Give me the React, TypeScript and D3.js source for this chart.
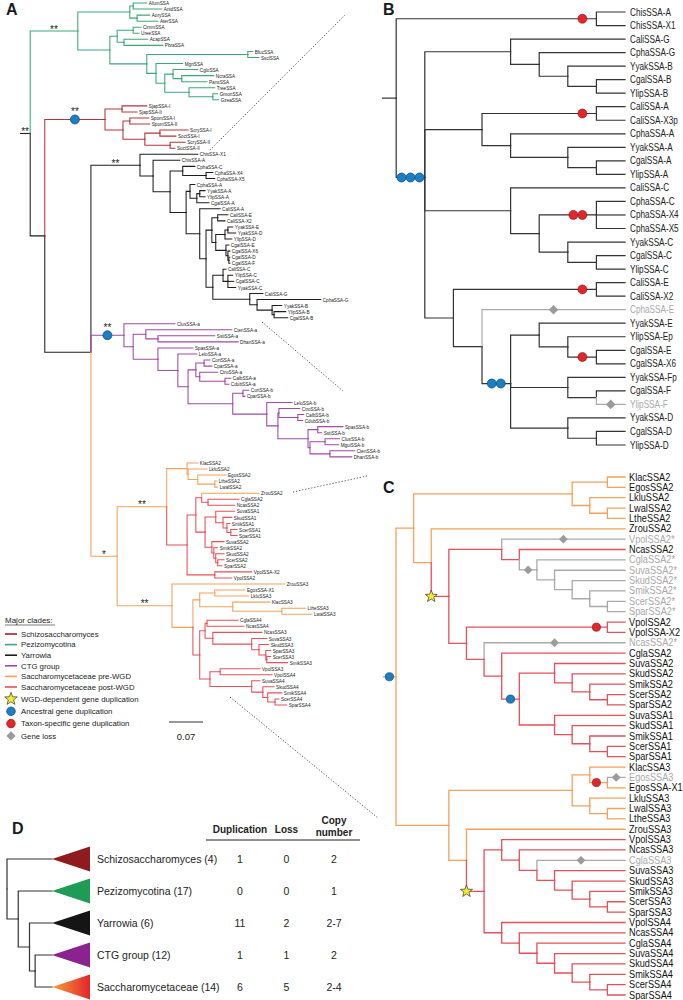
import React from 'react';
import * as d3 from 'd3';

// ================= DATA =================
// Panel A (phylogram). Number after ':' = distance of the node from the root (substitutions/site)
const pezizomycotinaA =
  "(((AfumSSA:.261,AnidSSA:.292)AA1:.233,(AorySSA:.267,AterSSA:.284)AA2:.241)Asp:.226,(((CimmSSA:.249,UreeSSA:.245)CU:.233,(AcapSSA:.263,PbraSSA:.294)AP:.214)OA:.200,((BfucSSA:.479,SsclSSA:.492)BS:.469,(MgriSSA:.335,((CgloSSA:.366,(NcraSSA:.399,PansSSA:.385)NP:.333)CNP:.315,(TreeSSA:.401,(GmonSSA:.407,GzeaSSA:.409)GG:.397)TGG:.348)G4:.298)G3:.280)G2:.261)G1:.185)G0:.119";
const schizoA =
  "((SjapSSA-I:.261,SjapSSA-II:.241)RJ:.210,((SpomSSA-I:.265,SpomSSA-II:.267)RP:.226,((ScrySSA-I:.346,SoctSSA-I:.321)RC1:.288,(ScrySSA-II:.340,SoctSSA-II:.319)RC2:.309)RC:.257)RX:.212)R0:.175";
const yarCC = "(CphaSSA-C:.360,(CphaSSA-X4:.397,CphaSSA-X5:.401)CX:.383)CC:.335";
const yarCA = "(CphaSSA-A:.360,((YyakSSA-A:.381,YlipSSA-A:.381)CA3:.370,CgalSSA-A:.389)CA2:.364)CA:.350";
const yarY6 =
  "((CaliSSA-E:.428,CaliSSA-X2:.422)CE:.407,(((YyakSSA-E:.438,YyakSSA-D:.444)YEd:.428,YlipSSA-D:.436)YY:.422,(CgalSSA-E:.430,(CgalSSA-X6:.432,(CgalSSA-D:.432,CgalSSA-F:.432)CG3:.430)CG2:.428)CG:.424)Y6b:.403)Y6:.395";
const yarY7 =
  "((CaliSSA-C:.424,(YlipSSA-C:.438,CgalSSA-C:.440,YyakSSA-C:.444)CC3:.428)CC2:.418,(CaliSSA-G:.500,(CphaSSA-G:.619,(YyakSSA-B:.539,(YlipSSA-B:.547,CgalSSA-B:.551)YB:.523)G3y:.519)G2y:.488)Gy:.473)Y7:.397";
const yarrowiaA = `(ChisSSA-X1:.366,(ChisSSA-A:.329,(${yarCC},(${yarCA},(CaliSSA-A:.412,(${yarY6},${yarY7})Y5:.383)Y4:.370)Y3:.342)Y2:.309)Y1:.274)Y0:.247`;
const ctgP6 = "((CortSSA-a:.391,CparSSA-a:.395)CCpA:.379,(CtroSSA-a:.407,(CalbSSA-a:.434,CdubSSA-a:.430)CC2A:.422)CCtA:.370)P6:.362";
const ctgP10 = "((SpasSSA-b:.665,SstiSSA-b:.621)SSb:.613,((ClusSSA-b:.658,MguiSSA-b:.656)CM:.628,(CtenSSA-b:.689,DhanSSA-b:.683)CD:.638)P11:.597)P10:.593";
const ctgP7 = `((CortSSA-b:.471,CparSSA-b:.463)CCpB:.459,(LeloSSA-b:.560,((CtroSSA-b:.576,(CalbSSA-b:.584,CdubSSA-b:.582)CCB:.572)P9a:.533,${ctgP10})P9:.531)P8:.508)P7:.438`;
const ctgA = `(ClusSSA-a:.319,((CtenSSA-a:.436,(SstiSSA-a:.401,DhanSSA-a:.449)P2b:.284)P2:.259,(SpasSSA-a:.356,(LeloSSA-a:.364,(${ctgP6},${ctgP7})P5:.346)P4:.325)P3:.284)P1:.233)P0:.214`;
const sacPA = "(KlacSSA2:.366,(LkluSSA2:.385,(EgosSSA2:.424,(LtheSSA2:.405,LwalSSA2:.407)LL:.401)PA3:.366)PA2:.346)PA:.344";
const sacPE =
  "((SuvaSSA1:.442,(SkudSSA1:.436,(SmikSSA1:.432,(ScerSSA1:.447,SparSSA1:.447)S1c:.434)S1b:.426)S1a:.418)S1:.403,(SuvaSSA2:.420,(SmikSSA2:.407,(SkudSSA2:.420,(ScerSSA2:.420,SparSSA2:.416)S2c:.407)S2b:.403)S2a:.399)S2:.395)PE:.381";
const sacPB = `(((ZrouSSA2:.492,(CglaSSA2:.451,NcasSSA2:.442)CN:.387)PD:.374,${sacPE})PC:.362,(VpolSSA-X2:.477,VpolSSA2:.436)PV:.401)PB:.344`;
const sacPF = "((EgosSSA-X1:.463,LkluSSA3:.471)PF1:.401,(KlacSSA3:.514,(LtheSSA3:.588,LwalSSA3:.601)LL3:.539)PF2:.438)PF:.370";
const sacPG1 =
  "((CglaSSA4:.449,NcasSSA4:.461)PCN:.385,(NcasSSA3:.498,(SuvaSSA3:.508,(SkudSSA3:.512,(SparSSA3:.516,(ScerSSA3:.516,SmikSSA3:.551)SM:.508)PK:.506)PJ:.492)PI:.477)PH:.397)PG1:.381";
const sacPL =
  "((VpolSSA3:.494,VpolSSA4:.519)PVV:.412,(SuvaSSA4:.494,(SkudSSA4:.523,(SmikSSA4:.539,(ScerSSA4:.533,SparSSA4:.549)SS4:.525)PO:.510)PN:.500)PM:.477)PL:.391";
const saccharomycetaceaeA = `((${sacPA},${sacPB})SA:.302,(ZrouSSA3:.545,(${sacPF},(${sacPG1},${sacPL})PG:.370)SC:.356)SB:.313)S0:.200`;
const treeA = `(${pezizomycotinaA},(${schizoA},(${yarrowiaA},${ctgA},${saccharomycetaceaeA})N3:.146)N2:.051)N1:.021`;

const cladeColorsA: Record<string, string> = { G0: 'pezizomycotina', R0: 'schizo', P0: 'ctg', S0: 'pre', PB: 'post', ZrouSSA2: 'pre', PG: 'post' };
const supportsA = [
  { node: 'N1', label: '**' }, { node: 'G0', label: '**' }, { node: 'R0', label: '**' }, { node: 'Y0', label: '**' },
  { node: 'P0', label: '**' }, { node: 'S0', label: '*' }, { node: 'SA', label: '**' }, { node: 'SB', label: '**' },
];
const eventsA = [{ node: 'R0', kind: 'anc', n: 1 }, { node: 'P0', kind: 'anc', n: 1 }];

// Panel B (Yarrowia clade, cladogram). Number after ':' = node rank from tips
const treeB =
  "((ChisSSA-A,ChisSSA-X1)Chis:1,((CaliSSA-G,(CphaSSA-G,(YyakSSA-B,(CgalSSA-B,YlipSSA-B):1):2):3)Gb:4," +
  "((CaliSSA-A,CaliSSA-X3p)AAb:1,(CphaSSA-A,(YyakSSA-A,(CgalSSA-A,YlipSSA-A):1):2)A2b:4)Ab:5," +
  "(CaliSSA-C,((CphaSSA-C,CphaSSA-X4,CphaSSA-X5)C3b:1,(YyakSSA-C,(CgalSSA-C,YlipSSA-C):1):2):3)Cb:4," +
  "((CaliSSA-E,CaliSSA-X2)E1b:1,(CphaSSA-E,((YyakSSA-E,(YlipSSA-Ep,(CgalSSA-E,CgalSSA-X6)CgEb:1):2):3,(YyakSSA-Fp,(CgalSSA-F,YlipSSA-F):1):2,(YyakSSA-D,(CgalSSA-D,YlipSSA-D):1):2)E3b:4)E2b:5)Eb:6)B1:7)Rb:8";
const lostB = ['CphaSSA-E', 'YlipSSA-F'];
const eventsB = [
  { node: 'Chis', kind: 'tax', n: 1 }, { node: 'B1', kind: 'anc', n: 3 }, { node: 'AAb', kind: 'tax', n: 1 },
  { node: 'C3b', kind: 'tax', n: 2 }, { node: 'E1b', kind: 'tax', n: 1 }, { node: 'CphaSSA-E', kind: 'loss', n: 1 },
  { node: 'E3b', kind: 'anc', n: 2 }, { node: 'CgEb', kind: 'tax', n: 1 }, { node: 'YlipSSA-F', kind: 'loss', n: 1 },
];

// Panel C (Saccharomycetaceae clade, cladogram)
const preWGD2 = "((KlacSSA2,EgosSSA2):1,(LkluSSA2,(LwalSSA2,LtheSSA2):1):2)Pre2:3";
const postW2a = "(VpolSSA2*,(NcasSSA2,(CglaSSA2*,(SuvaSSA2*,(SkudSSA2*,(SmikSSA2*,(ScerSSA2*,SparSSA2*):1):2):3):4)W2c:5)W2b:6)W2a:7";
const postW2g =
  "((VpolSSA2,VpolSSA-X2)VP2:1,(NcasSSA2*,(CglaSSA2,((SuvaSSA2,(SkudSSA2,(SmikSSA2,(ScerSSA2,SparSSA2):1):2):3):4,(SuvaSSA1,(SkudSSA1,(SmikSSA1,(ScerSSA1,SparSSA1):1):2):3):4)W2j:6)W2i:7)W2h:8)W2g:9";
const preWGD3 = "((KlacSSA3,(EgosSSA3,EgosSSA-X1)EE:1):2,(LkluSSA3,(LwalSSA3,LtheSSA3):1):2)Pre3:3";
const postW3a = "(VpolSSA3,(NcasSSA3,(CglaSSA3,(SuvaSSA3,(SkudSSA3,(SmikSSA3,(ScerSSA3,SparSSA3):1):2):3):4)W3a3:5):6)W3a:7";
const postW3b = "(VpolSSA4,(NcasSSA4,(CglaSSA4,(SuvaSSA4,(SkudSSA4,(SmikSSA4,(ScerSSA4,SparSSA4):1):2):3):4):5):6)W3b:7";
const treeC = `((${preWGD2},(ZrouSSA2,(${postW2a},${postW2g})W2:10)Z2:11)S2:12,(${preWGD3},(ZrouSSA3,(${postW3a},${postW3b})W3:8)Z3:9)S3:10)Rc:13`;
const cladeColorsC: Record<string, string> = { W2: 'post', W3: 'post' };
const lostC = ['VpolSSA2*', 'W2c', 'NcasSSA2*', 'EgosSSA3', 'CglaSSA3'];
const eventsC = [
  { node: 'Rc', kind: 'anc', n: 1 }, { node: 'W2', kind: 'wgd', n: 1 }, { node: 'W3', kind: 'wgd', n: 1 },
  { node: 'VP2', kind: 'tax', n: 1 }, { node: 'VpolSSA2*', kind: 'loss', n: 1 }, { node: 'W2c', kind: 'loss', n: 1 },
  { node: 'NcasSSA2*', kind: 'loss', n: 1 }, { node: 'W2j', kind: 'anc', n: 1 }, { node: 'EE', kind: 'tax', n: 1 },
  { node: 'EgosSSA3', kind: 'loss', n: 1 }, { node: 'CglaSSA3', kind: 'loss', n: 1 },
];

// Panel D
const treeD = "(Schizo:4,(Pezizo:4,(Yarrowia:4,(CTG:4,Sacch:4)D3:2.5)D2:2)D1:1)D0:0";
const dNames = ['Schizosaccharomyces (4)', 'Pezizomycotina (17)', 'Yarrowia (6)', 'CTG group (12)', 'Saccharomycetaceae (14)'];
const dDuplication = ['1', '0', '11', '1', '6'];
const dLoss = ['0', '0', '2', '1', '5'];
const dCopy = ['2', '1', '2-7', '2', '2-4'];
const dColorKeys = ['schizoD', 'peziD', 'yarD', 'ctgD', 'sacchD'];

// Legend
const legendClades = [
  { label: 'Schizosaccharomyces', key: 'schizoL' }, { label: 'Pezizomycotina', key: 'pezizomycotina' },
  { label: 'Yarrowia', key: 'yarrowia' }, { label: 'CTG group', key: 'ctg' },
  { label: 'Saccharomycetaceae pre-WGD', key: 'pre' }, { label: 'Saccharomycetaceae post-WGD', key: 'post' },
];
const legendEvents = [
  { label: 'WGD-dependent gene duplication', kind: 'wgd' }, { label: 'Ancestral gene duplication', kind: 'anc' },
  { label: 'Taxon-specific gene duplication', kind: 'tax' }, { label: 'Gene loss', kind: 'loss' },
];
const scaleBarValue = 0.07;

// ================= STYLE =================
const FONT = "'Liberation Sans', Arial, Helvetica, sans-serif";
const PAL: Record<string, string> = {
  pezizomycotina: '#3aa977', schizo: '#b3343d', schizoL: '#a3202a', yarrowia: '#1e1e1e', ctg: '#9f4aa6',
  pre: '#f4a259', post: '#e5505b', lost: '#a9a9a9', plain: '#333333',
  schizoD: '#8e1b1e', peziD: '#1e9c56', yarD: '#151515', ctgD: '#8a2290',
};

// ================= HELPERS =================
type TNode = { name: string; v: number; children: TNode[] };
function parseNewick(src: string): TNode {
  const s = src.replace(/\s+/g, '');
  let i = 0;
  const read = (): TNode => {
    const node: TNode = { name: '', v: 0, children: [] };
    if (s[i] === '(') {
      i++;
      node.children.push(read());
      while (s[i] === ',') { i++; node.children.push(read()); }
      i++;
    }
    let name = '';
    while (i < s.length && !',():;'.includes(s[i])) name += s[i++];
    node.name = name;
    if (s[i] === ':') {
      i++;
      let num = '';
      while (i < s.length && !',();'.includes(s[i])) num += s[i++];
      node.v = parseFloat(num);
    }
    return node;
  };
  return read();
}

function buildTree(src: string, xScale: any, yRange: [number, number], base: string, overrides: Record<string, string>, lost: string[]) {
  const root: any = d3.hierarchy(parseNewick(src), (d: TNode) => (d.children.length ? d.children : null));
  const leaves: any[] = root.leaves();
  const yS = d3.scalePoint<number>().domain(d3.range(leaves.length)).range(yRange);
  leaves.forEach((l, i) => { l.py = yS(i); });
  root.eachAfter((n: any) => {
    if (n.children) n.py = d3.mean(n.children, (c: any) => c.py);
    n.px = xScale(n.data.v);
  });
  const lostSet = new Set(lost);
  root.eachBefore((n: any) => {
    n.col = overrides[n.data.name] ?? (n.parent ? n.parent.col : base);
    n.lost = lostSet.has(n.data.name) || (n.parent ? n.parent.lost : false);
  });
  const byName = new Map<string, any>();
  root.each((n: any) => { if (n.data.name) byName.set(n.data.name, n); });
  return { root, leaves, byName };
}

function starPath(cx: number, cy: number, R: number, r: number) {
  const pts = d3.range(10).map((i) => {
    const a = (-90 + i * 36) * Math.PI / 180;
    const rad = i % 2 ? r : R;
    return [cx + rad * Math.cos(a), cy + rad * Math.sin(a)];
  });
  return 'M' + pts.map((p) => p.join(',')).join('L') + 'Z';
}

function symbol(kind: string, x: number, y: number, r: number, key: string) {
  if (kind === 'anc') return <circle key={key} cx={x} cy={y} r={r} fill="#1b7fc3" stroke="#0b4c7a" strokeWidth={0.7} />;
  if (kind === 'tax') return <circle key={key} cx={x} cy={y} r={r} fill="#e3262c" stroke="#7a1416" strokeWidth={0.6} />;
  if (kind === 'loss') {
    const h = r + 0.3;
    return <path key={key} d={`M${x},${y - h}L${x + h},${y}L${x},${y + h}L${x - h},${y}Z`} fill="#9b9b9b" />;
  }
  return <path key={key} d={starPath(x, y, r * 1.55, r * 0.65)} fill="#f2ea2c" stroke="#333" strokeWidth={0.7} />;
}

function drawEdges(t: any, stemX: number, width: number, colorOf: (n: any) => string, prefix: string) {
  const out: any[] = [];
  out.push(<path key={prefix + 'stem'} d={`M${stemX},${t.root.py}H${t.root.px}`} stroke={colorOf(t.root)} strokeWidth={width} fill="none" />);
  t.root.descendants().forEach((n: any, i: number) => {
    if (!n.parent) return;
    out.push(
      <path key={prefix + i} d={`M${n.parent.px},${n.parent.py}V${n.py}H${n.px}`} stroke={colorOf(n)}
        strokeWidth={width} fill="none" strokeLinecap="square" />
    );
  });
  return out;
}

function drawEvents(t: any, stemX: number, list: any[], r: number, taxOff: number, prefix: string) {
  const out: any[] = [];
  list.forEach((m, mi) => {
    const n = t.byName.get(m.node);
    if (!n) return;
    const x0 = n.parent ? n.parent.px : stemX;
    const x1 = n.px;
    const pos: number[] = [];
    if (m.kind === 'wgd') pos.push(x0);
    else if (m.kind === 'tax') for (let i = 0; i < m.n; i++) pos.push(x1 - taxOff - (m.n - 1 - i) * 2 * r);
    else { const c = (x0 + x1) / 2; for (let i = 0; i < m.n; i++) pos.push(c + (i - (m.n - 1) / 2) * 2 * r); }
    pos.forEach((x, k) => out.push(symbol(m.kind, x, n.py, r, `${prefix}${mi}-${k}`)));
  });
  return out;
}

// ================= COMPONENT =================
export default function App() {
  const W = 683, H = 1000;

  const xA = d3.scaleLinear().domain([0, scaleBarValue]).range([20, 54]);
  const tA = buildTree(treeA, xA, [3, 705], 'yarrowia', cladeColorsA, []);
  const xB = d3.scaleLinear().domain([0, 8]).range([625, 396.2]);
  const tB = buildTree(treeB, xB, [12, 445], 'plain', {}, lostB);
  const xC = d3.scaleLinear().domain([0, 13]).range([625, 396]);
  const tC = buildTree(treeC, xC, [477, 995], 'pre', cladeColorsC, lostC);
  const xD = d3.scaleLinear().domain([0, 4]).range([7, 52]);
  const tD = buildTree(treeD, xD, [859, 987], 'plain', {}, []);

  const markedA = new Set(eventsA.map((e) => e.node));
  const legendRowsY = d3.range(legendClades.length).map((i) => 634 + i * 10.6);
  const legendEvY = d3.range(legendEvents.length).map((i) => 699 + i * 12.3);
  const colD = { dup: 240, loss: 286.5, copy: 334 };

  return (
    <svg width={W} height={H} style={{ position: 'absolute', left: 0, top: 0, background: '#fff' }} fontFamily={FONT}>
      <defs>
        <linearGradient id="sacchGrad" x1="0" x2="1" y1="0" y2="0">
          <stop offset="0%" stopColor="#f7a13a" />
          <stop offset="100%" stopColor="#e2262b" />
        </linearGradient>
      </defs>
      <rect width={W} height={H} fill="#fff" />

      {/* ---------- Panel A ---------- */}
      <g>
        {drawEdges(tA, xA(0), 1.05, (n) => PAL[n.col], 'a')}
        {drawEvents(tA, xA(0), eventsA, 4.5, 0, 'ae')}
        {supportsA.map((s, i) => {
          const n = tA.byName.get(s.node);
          const x0 = n.parent ? n.parent.px : xA(0);
          const yy = markedA.has(s.node) ? n.py - 4.5 : n.py + 1.5;
          return <text key={'sup' + i} x={(x0 + n.px) / 2} y={yy} fontSize={10} textAnchor="middle" fill="#222">{s.label}</text>;
        })}
        {tA.leaves.map((l: any, i: number) => (
          <text key={'la' + i} transform={`translate(${l.px + 2},${l.py}) scale(0.78,1)`} fontSize={6} dy="0.35em" fill="#1a1a1a">
            {l.data.name}
          </text>
        ))}
        <line x1={169} x2={169 + xA(scaleBarValue) - xA(0)} y1={722} y2={722} stroke="#333" strokeWidth={1.2} />
        <text x={169 + (xA(scaleBarValue) - xA(0)) / 2} y={740} fontSize={9.5} textAnchor="middle" fill="#222">{scaleBarValue}</text>

        <text x={5} y={623} fontSize={8} fill="#222">Major clades:</text>
        <line x1={5} x2={55} y1={625} y2={625} stroke="#222" strokeWidth={0.6} />
        {legendClades.map((c, i) => (
          <g key={'lc' + i}>
            <line x1={5} x2={17} y1={legendRowsY[i]} y2={legendRowsY[i]} stroke={PAL[c.key]} strokeWidth={1.6} />
            <text x={21} y={legendRowsY[i]} dy="0.35em" fontSize={7.8} fill="#222">{c.label}</text>
          </g>
        ))}
        {legendEvents.map((e, i) => (
          <g key={'le' + i}>
            {symbol(e.kind, 11, legendEvY[i], 4.3, 'les' + i)}
            <text x={21} y={legendEvY[i]} dy="0.35em" fontSize={7.8} fill="#222">{e.label}</text>
          </g>
        ))}
      </g>

      {/* dotted connectors */}
      <g stroke="#333" strokeWidth={0.8} strokeDasharray="1.3 1.8" fill="none">
        <line x1={210} y1={150} x2={345} y2={15} />
        <line x1={262} y1={322} x2={343} y2={391} />
        <line x1={293} y1={492} x2={367} y2={476} />
        <line x1={230} y1={697} x2={378} y2={818} />
      </g>

      {/* ---------- Panel B ---------- */}
      <g>
        {drawEdges(tB, xB(8.5), 1.2, (n) => (n.lost ? PAL.lost : PAL.plain), 'b')}
        {drawEvents(tB, xB(8.5), eventsB, 4.5, 14, 'be')}
        {tB.leaves.map((l: any, i: number) => (
          <text key={'lb' + i} transform={`translate(${l.px + 5},${l.py}) scale(0.82,1)`} fontSize={10} dy="0.35em"
            fill={l.lost ? '#a8a8a8' : '#222'}>
            {l.data.name}
          </text>
        ))}
      </g>

      {/* ---------- Panel C ---------- */}
      <g>
        {drawEdges(tC, xC(13.75), 1.3, (n) => (n.lost ? PAL.lost : PAL[n.col]), 'c')}
        {drawEvents(tC, xC(13.75), eventsC, 4.1, 11, 'ce')}
        {tC.leaves.map((l: any, i: number) => (
          <text key={'lc' + i} transform={`translate(${l.px + 4},${l.py}) scale(0.92,1)`} fontSize={10} dy="0.35em"
            fill={l.lost ? '#a8a8a8' : '#111'}>
            {l.data.name}
          </text>
        ))}
      </g>

      {/* ---------- Panel D ---------- */}
      <g>
        {drawEdges(tD, xD(0), 1.2, () => '#333', 'd').slice(1)}
        {tD.leaves.map((l: any, i: number) => (
          <g key={'ld' + i}>
            <path d={`M${l.px},${l.py}L${l.px + 38},${l.py - 12.5}L${l.px + 38},${l.py + 12.5}Z`}
              fill={dColorKeys[i] === 'sacchD' ? 'url(#sacchGrad)' : PAL[dColorKeys[i]]} />
            <text x={97} y={l.py} dy="0.35em" fontSize={10.5} fill="#222">{dNames[i]}</text>
            <text x={colD.dup} y={l.py} dy="0.35em" fontSize={10.5} fill="#222" textAnchor="middle">{dDuplication[i]}</text>
            <text x={colD.loss} y={l.py} dy="0.35em" fontSize={10.5} fill="#222" textAnchor="middle">{dLoss[i]}</text>
            <text x={colD.copy} y={l.py} dy="0.35em" fontSize={10.5} fill="#222" textAnchor="middle">{dCopy[i]}</text>
          </g>
        ))}
        <text x={colD.dup} y={833} fontSize={10} fontWeight="bold" textAnchor="middle" fill="#222">Duplication</text>
        <text x={colD.loss} y={833} fontSize={10} fontWeight="bold" textAnchor="middle" fill="#222">Loss</text>
        <text x={colD.copy} y={824} fontSize={10} fontWeight="bold" textAnchor="middle" fill="#222">Copy</text>
        <text x={colD.copy} y={836} fontSize={10} fontWeight="bold" textAnchor="middle" fill="#222">number</text>
        <line x1={206} x2={360} y1={840} y2={840} stroke="#222" strokeWidth={1} />
      </g>

      <g fontSize={16} fontWeight="bold" fill="#1a1a1a">
        <text x={6} y={15}>A</text>
        <text x={383} y={15}>B</text>
        <text x={383} y={493}>C</text>
        <text x={12} y={834}>D</text>
      </g>
    </svg>
  );
}
